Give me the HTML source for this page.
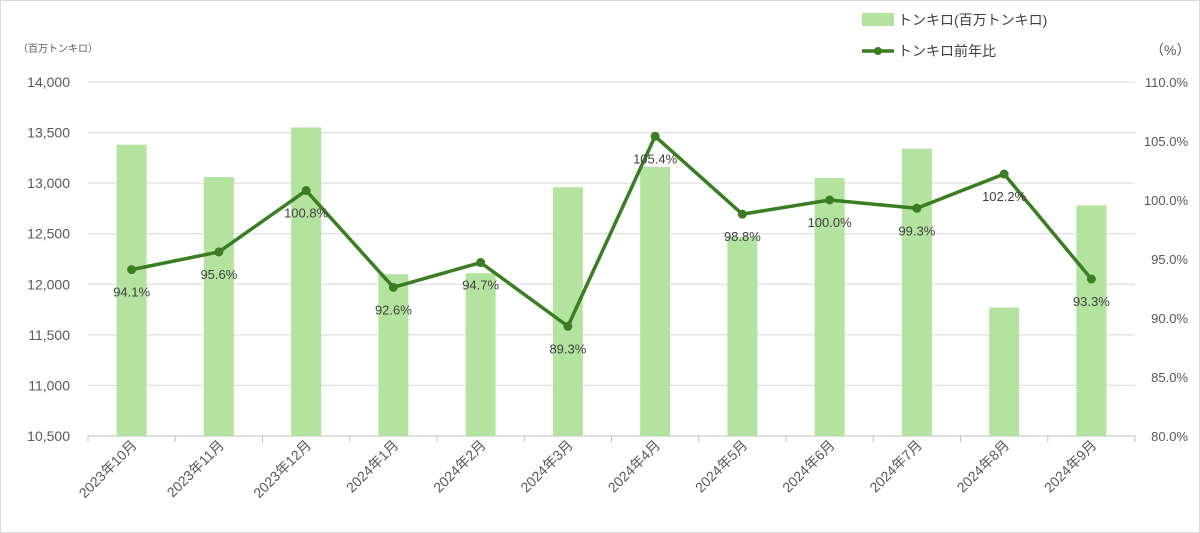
<!DOCTYPE html>
<html><head><meta charset="utf-8"><style>
body{margin:0;background:#fff}
svg{display:block;font-family:"Liberation Sans","Noto Sans CJK JP",sans-serif}
</style></head><body>
<svg id="c" width="1200" height="533">
<rect x="0.5" y="0.5" width="1199" height="532" fill="#fff" stroke="#d9d9d9"/>
<g id="grid"></g><g id="bars"></g><g id="line"></g><g id="labels"></g>
<text x="18" y="52" font-size="10" fill="#595959">（百万トンキロ）</text>
<text x="1150" y="55" font-size="14" fill="#595959">（%）</text>
<rect x="862" y="13" width="32" height="13" fill="#b3e39f"/>
<text x="898" y="25" font-size="14" fill="#404040">トンキロ(百万トンキロ)</text>
<line x1="862" y1="51" x2="894" y2="51" stroke="#3a7d22" stroke-width="3.5"/>
<circle cx="878" cy="51" r="4" fill="#3a7d22"/>
<text x="898" y="56" font-size="14" fill="#404040">トンキロ前年比</text>
</svg>
<script>
const categories=["2023年10月","2023年11月","2023年12月","2024年1月","2024年2月","2024年3月","2024年4月","2024年5月","2024年6月","2024年7月","2024年8月","2024年9月"];
const tonkm=[13380,13060,13550,12100,12110,12960,13160,12470,13050,13340,11770,12780];
const yoy=[94.1,95.6,100.8,92.6,94.7,89.3,105.4,98.8,100.0,99.3,102.2,93.3];
const leftTicks=[10500,11000,11500,12000,12500,13000,13500,14000];
const rightTicks=[80,85,90,95,100,105,110];
const NS="http://www.w3.org/2000/svg";
const X0=88,X1=1135,YT=82,YB=436;
const step=(X1-X0)/categories.length;
const xc=i=>X0+step*(i+0.5);
const yl=v=>YB-(v-10500)/3500*(YB-YT);
const yr=v=>YB-(v-80)/30*(YB-YT);
function mk(t,a,p){const e=document.createElementNS(NS,t);for(const k in a)e.setAttribute(k,a[k]);p.appendChild(e);return e;}
const G=document.getElementById('grid'),B=document.getElementById('bars'),L=document.getElementById('line'),T=document.getElementById('labels');
leftTicks.forEach(v=>{
 const y=yl(v);
 const g=mk('line',{x1:X0,x2:X1,y1:y,y2:y,stroke:v===10500?'#bfbfbf':'#d9d9d9','stroke-width':1},G);
 
 
 const t=mk('text',{x:70,y:y+5,'text-anchor':'end','font-size':14,fill:'#595959'},T);
 
 
 t.textContent=v.toLocaleString('en-US');
});
rightTicks.forEach(v=>{
 const t=mk('text',{x:1188,y:yr(v)+5,'text-anchor':'end','font-size':13,fill:'#595959'},T);
 
 
 t.textContent=v.toFixed(1)+'%';
});
for(let i=0;i<=categories.length;i++){
 const x=X0+step*i;
 mk('line',{x1:x,x2:x,y1:YB,y2:YB+6,stroke:'#bfbfbf'},G);
}
categories.forEach((c,i)=>{
 const r=mk('rect',{x:xc(i)-15,y:yl(tonkm[i]),width:30,height:YB-yl(tonkm[i]),fill:'#b3e39f'},B);
 
 
 const t=mk('text',{x:xc(i)+6,y:446,'text-anchor':'end','font-size':14,fill:'#595959',transform:`rotate(-45 ${xc(i)+6} 446)`},T);
 
 
 t.textContent=c;
});
const pl=mk('polyline',{points:yoy.map((v,i)=>xc(i)+','+yr(v)).join(' '),fill:'none',stroke:'#3a7d22','stroke-width':3.5,'stroke-linejoin':'round'},L);


yoy.forEach((v,i)=>{
 const c=mk('circle',{cx:xc(i),cy:yr(v),r:4.5,fill:'#3a7d22'},L);
 
 
 const t=mk('text',{x:xc(i),y:yr(v)+27,'text-anchor':'middle','font-size':13,fill:'#404040'},T);
 
 
 t.textContent=v.toFixed(1)+'%';
});
</script>
</body></html>
